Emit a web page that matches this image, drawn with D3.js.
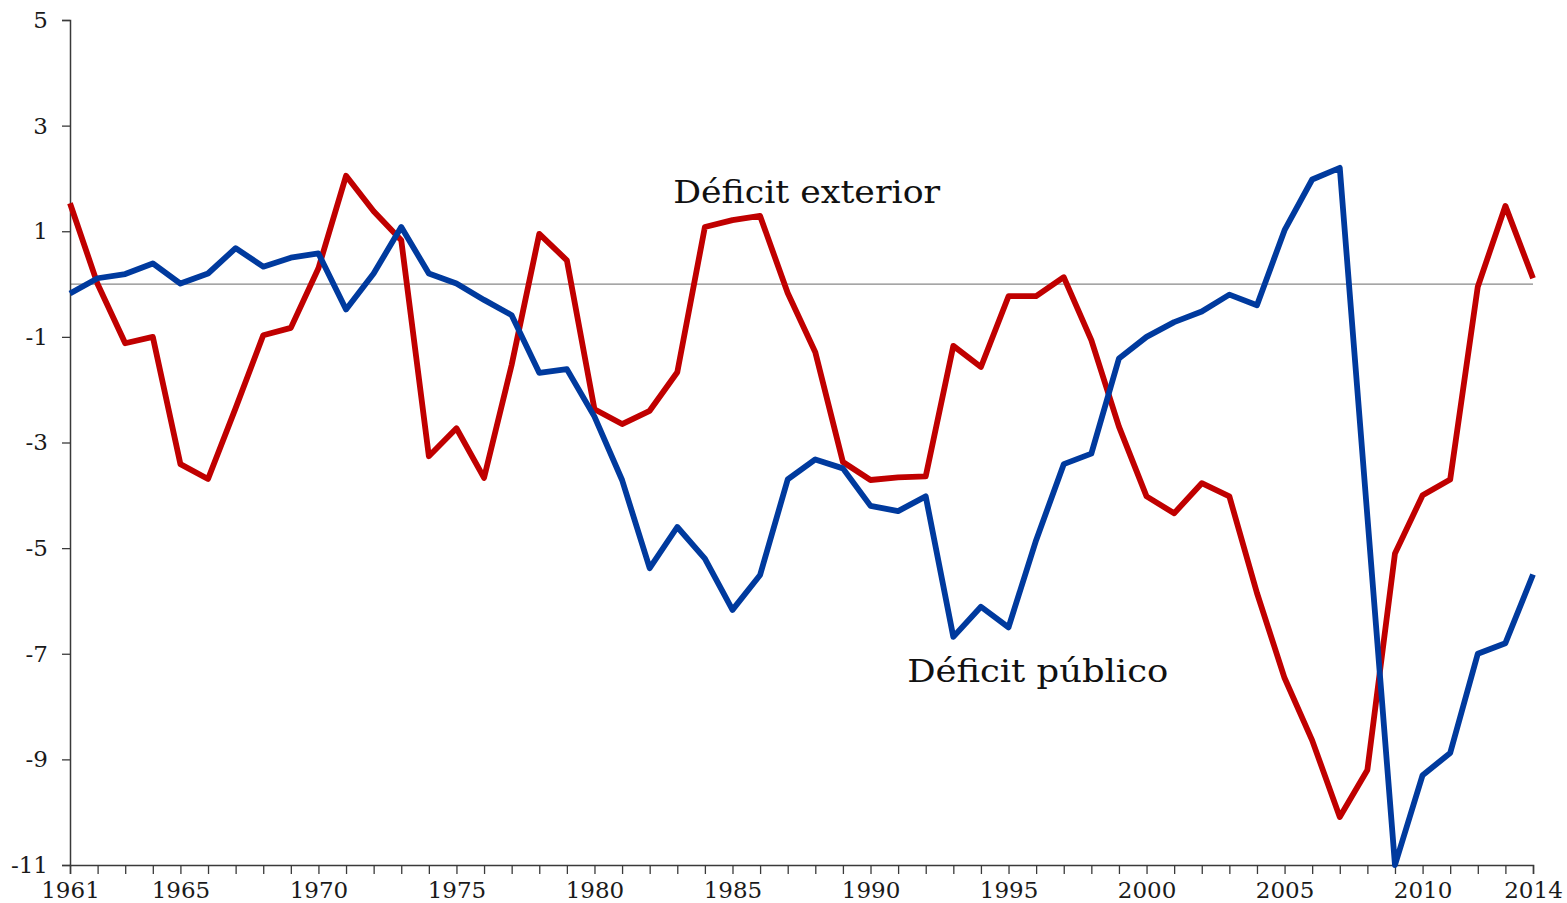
<!DOCTYPE html>
<html><head><meta charset="utf-8">
<script src="https://cdn.jsdelivr.net/npm/d3@7"></script>
<style>html,body{margin:0;padding:0;background:#fff;}svg{display:block;}</style>
</head><body>
<svg id="chart" width="1567" height="903"></svg>
<script>
const years = d3.range(1961, 2015);
const deficitExterior = [
  1.53, 0.0, -1.12, -1.0, -3.41, -3.69, -2.35, -0.97, -0.83, 0.3,
  2.05, 1.38, 0.83, -3.26, -2.73, -3.67, -1.53, 0.95, 0.45, -2.37,
  -2.65, -2.4, -1.67, 1.08, 1.21, 1.29, -0.17, -1.29, -3.37, -3.71,
  -3.66, -3.64, -1.17, -1.57, -0.23, -0.23, 0.13, -1.06, -2.7, -4.02,
  -4.34, -3.77, -4.02, -5.85, -7.46, -8.64, -10.09, -9.2, -5.1, -4.0,
  -3.7, -0.05, 1.48, 0.11
];
const deficitPublico = [
  -0.18, 0.11, 0.19, 0.39, 0.01, 0.2, 0.68, 0.33, 0.5, 0.58,
  -0.48, 0.2, 1.08, 0.2, 0.01, -0.3, -0.59, -1.68, -1.61, -2.51,
  -3.71, -5.38, -4.6, -5.2, -6.17, -5.51, -3.7, -3.32, -3.49, -4.2,
  -4.3, -4.02, -6.68, -6.11, -6.5, -4.85, -3.41, -3.21, -1.41, -1.0,
  -0.72, -0.52, -0.2, -0.4, 1.02, 1.98, 2.2, -4.4, -11.0, -9.3,
  -8.88, -7.0, -6.8, -5.5
];
const yTicks = [5, 3, 1, -1, -3, -5, -7, -9, -11];
const xLabelYears = [1961, 1965, 1970, 1975, 1980, 1985, 1990, 1995, 2000, 2005, 2010, 2014];
const labels = [
  {text: "Déficit exterior", year: 1982.85, value: 1.53, width: 267},
  {text: "Déficit público", year: 1991.33, value: -7.53, width: 261}
];

const svg = d3.select("#chart");
const x = d3.scaleLinear().domain([1961, 2014]).range([70, 1533]);
const y = d3.scaleLinear().domain([-11, 5]).range([865, 20]);
const tickFont = "'DejaVu Serif','Liberation Serif',serif";
const labelFont = "'DejaVu Serif','Liberation Serif',serif";
const axisColor = "#3a3a3a";

// zero line
svg.append("line")
  .attr("x1", x(1961)).attr("x2", x(2014))
  .attr("y1", y(0)).attr("y2", y(0))
  .attr("stroke", "#888").attr("stroke-width", 1.2);

// Y axis
const yAxis = svg.append("g").attr("transform", `translate(${x(1961)},0)`)
  .call(d3.axisLeft(y).tickValues(yTicks).tickSize(8).tickPadding(14));
yAxis.select(".domain").attr("stroke", axisColor).attr("stroke-width", 1.5);
yAxis.selectAll(".tick line").attr("stroke", axisColor).attr("stroke-width", 1.3);
yAxis.selectAll("text").attr("font-family", tickFont).attr("font-size", 23).attr("fill", "#1a1a1a")
  .text(d => d < 0 ? "-" + Math.abs(d) : d);

// X axis
const xAxis = svg.append("g").attr("transform", `translate(0,${y(-11)})`)
  .call(d3.axisBottom(x).tickValues(years).tickSize(9).tickPadding(8).tickFormat(d => xLabelYears.includes(d) ? d : ""));
xAxis.select(".domain").attr("stroke", axisColor).attr("stroke-width", 1.5);
xAxis.selectAll(".tick line").attr("stroke", axisColor).attr("stroke-width", 1.3);
xAxis.selectAll("text").attr("font-family", tickFont).attr("font-size", 23).attr("fill", "#1a1a1a");

// lines
const line = d3.line().x((d, i) => x(years[i])).y(d => y(d));
svg.append("path").datum(deficitExterior).attr("d", line)
  .attr("fill", "none").attr("stroke", "#C00000").attr("stroke-width", 5.8)
  .attr("stroke-linejoin", "round");
svg.append("path").datum(deficitPublico).attr("d", line)
  .attr("fill", "none").attr("stroke", "#003A9E").attr("stroke-width", 5.8)
  .attr("stroke-linejoin", "round");

// annotations
svg.selectAll(".lbl").data(labels).enter().append("text")
  .attr("x", d => x(d.year)).attr("y", d => y(d.value))
  .attr("font-family", labelFont).attr("font-size", 32).attr("fill", "#111")
  .attr("textLength", d => d.width).attr("lengthAdjust", "spacingAndGlyphs")
  .text(d => d.text);
</script>
</body></html>
